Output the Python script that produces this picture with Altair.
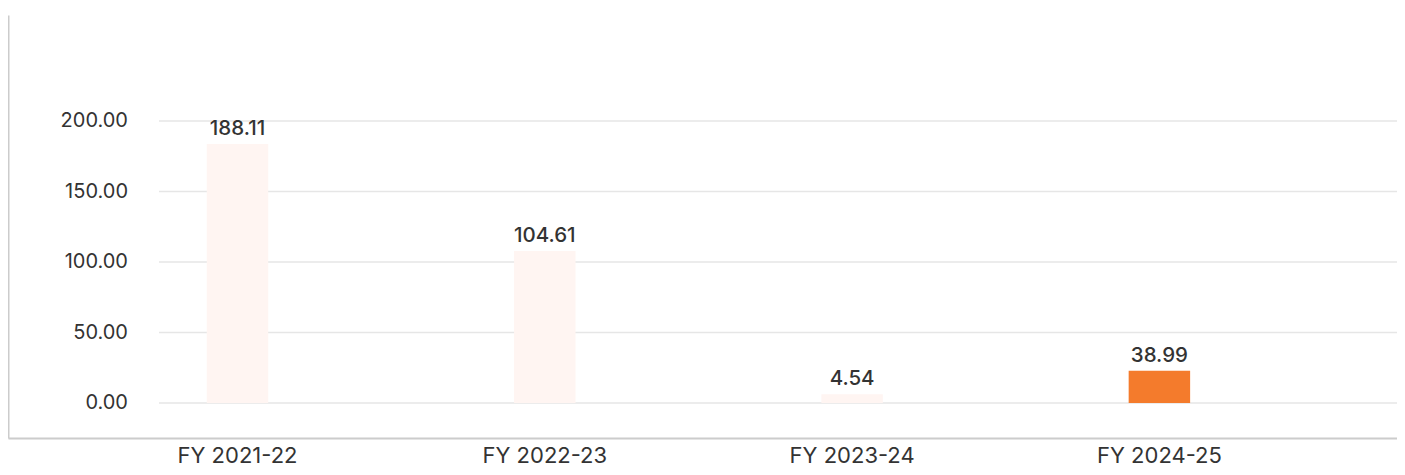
import altair as alt
import pandas as pd

categories = ["FY 2021-22", "FY 2022-23", "FY 2023-24", "FY 2024-25"]
bar_heights = [183.7, 107.8, 6.2, 22.9]
label_texts = ["188.11", "104.61", "4.54", "38.99"]
bar_colors = ["#FFF5F2", "#FFF5F2", "#FFF5F2", "#F47B2C"]
grid_values = [0, 50, 100, 150, 200]

df = pd.DataFrame({"cat": categories, "h": bar_heights, "lab": label_texts, "col": bar_colors})
grid_df = pd.DataFrame({"v": grid_values, "t": [f"{v:.2f}" for v in grid_values]})

W = 1389
H = 423
FONT = "Inter"

yscale = alt.Scale(domain=[-24.8, 275.2], nice=False, zero=False)
xscale = alt.Scale(domain=categories, paddingInner=0.8, paddingOuter=0.66, align=0.49)

xaxis = alt.Axis(title=None, labelAngle=0, labelFontSize=22, labelFont=FONT,
                 labelColor="#333333", labelPadding=7, ticks=False, tickSize=0,
                 domainColor="#CCCCCC", domainWidth=2, grid=False)
yaxis = alt.Axis(title=None, labels=False, ticks=False, tickSize=0, grid=False,
                 domainColor="#CCCCCC", domainWidth=2)

base = alt.Chart(df).encode(
    x=alt.X("cat:N", scale=xscale, sort=categories, axis=xaxis),
    y=alt.Y("h:Q", scale=yscale, axis=yaxis),
)

bars = base.mark_bar().encode(color=alt.Color("col:N", scale=None))

texts = base.mark_text(baseline="alphabetic", dy=-9, fontSize=20.5, font=FONT,
                       fontWeight=500, color="#333333").encode(text="lab:N")

grid = alt.Chart(grid_df).mark_rule(color="#E6E6E6", strokeWidth=1.5).encode(
    x=alt.value(151), x2=alt.value(W),
    y=alt.Y("v:Q", scale=yscale, axis=yaxis),
)

ylabels = alt.Chart(grid_df).mark_text(align="right", baseline="middle", fontSize=20,
                                        font=FONT, color="#333333").encode(
    x=alt.value(120),
    y=alt.Y("v:Q", scale=yscale, axis=yaxis),
    text="t:N",
)

chart = alt.layer(grid, ylabels, bars, texts).properties(
    width=W, height=H,
    background="white",
    padding={"left": 0, "top": 7, "right": 0, "bottom": 28},
    autosize=alt.AutoSizeParams(type="none"),
).configure_view(strokeWidth=0, stroke="transparent")

chart.save("out.html", embed_options={"renderer": "svg", "actions": False})
